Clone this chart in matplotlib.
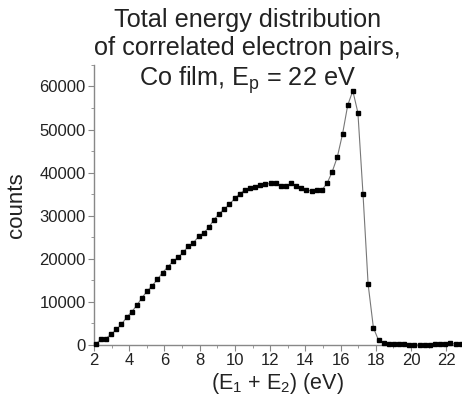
import matplotlib.pyplot as plt
from matplotlib.ticker import MultipleLocator

plt.rcParams['font.family'] = ['Liberation Sans', 'DejaVu Sans']

# total energy E1+E2 (eV) and counts
energy = [2.10, 2.39, 2.68, 2.98, 3.27, 3.56, 3.85, 4.14, 4.43, 4.73,
          5.02, 5.31, 5.60, 5.89, 6.19, 6.48, 6.77, 7.06, 7.35, 7.64,
          7.94, 8.23, 8.52, 8.81, 9.10, 9.40, 9.69, 9.98, 10.27, 10.56,
          10.85, 11.15, 11.44, 11.73, 12.02, 12.31, 12.60, 12.90, 13.19, 13.48,
          13.77, 14.06, 14.36, 14.65, 14.94, 15.23, 15.52, 15.81, 16.11, 16.40,
          16.69, 16.98, 17.27, 17.56, 17.86, 18.15, 18.44, 18.73, 19.02, 19.32,
          19.61, 19.90, 20.19, 20.48, 20.77, 21.07, 21.36, 21.65, 21.94, 22.23,
          22.53, 22.82]
counts = [200, 1300, 1500, 2500, 3600, 4800, 6400, 7700, 9200, 11000,
          12500, 13800, 15200, 16800, 18100, 19400, 20300, 21500, 22900, 23700,
          25200, 26000, 27300, 29100, 30400, 31600, 32600, 34000, 35000, 36000,
          36500, 36700, 37200, 37300, 37500, 37500, 37000, 36800, 37500, 37000,
          36500, 36000, 35700, 36000, 36000, 37500, 40200, 43600, 49000, 55600,
          59000, 53900, 35000, 14100, 4000, 1100, 400, 300, 300, 250,
          200, 100, 0, 0, 50, 0, 150, 250, 300, 400,
          200, 150]

fig = plt.figure(figsize=(4.62, 4.03), dpi=100)
ax = fig.add_axes([0.2035, 0.144, 0.795, 0.695])

ax.plot(energy, counts, color='#777777', lw=0.8, marker='s', ms=3.5,
        mfc='black', mec='black', clip_on=False, zorder=3)

ax.set_xlim(2, 22.85)
ax.set_ylim(0, 65000)
ax.xaxis.set_major_locator(MultipleLocator(2))
ax.xaxis.set_minor_locator(MultipleLocator(1))
ax.yaxis.set_major_locator(MultipleLocator(10000))
ax.yaxis.set_minor_locator(MultipleLocator(5000))

for s in ['top', 'right']:
    ax.spines[s].set_visible(False)
for s in ['left', 'bottom']:
    ax.spines[s].set_color('#888888')
    ax.spines[s].set_linewidth(1.0)
ax.tick_params(which='major', length=4, color='#888888', labelsize=12,
               labelcolor='#222222', pad=2)
ax.tick_params(which='minor', length=2.5, color='#888888')

ax.set_xlabel(r'(E$_\mathregular{1}$ + E$_\mathregular{2}$) (eV)', fontsize=15.5,
              color='#222222', labelpad=2)
ax.set_ylabel('counts', fontsize=16, color='#222222', labelpad=9)

fig.text(0.535, 0.950, 'Total energy distribution', ha='center', va='center',
         fontsize=18.2, color='#222222')
fig.text(0.535, 0.880, 'of correlated electron pairs,', ha='center',
         va='center', fontsize=18.2, color='#222222')
fig.text(0.535, 0.800, r'Co film, E$_\mathregular{p}$ = 22 eV', ha='center',
         va='center', fontsize=18.2, color='#222222')

fig.savefig('out.png', dpi=100)
